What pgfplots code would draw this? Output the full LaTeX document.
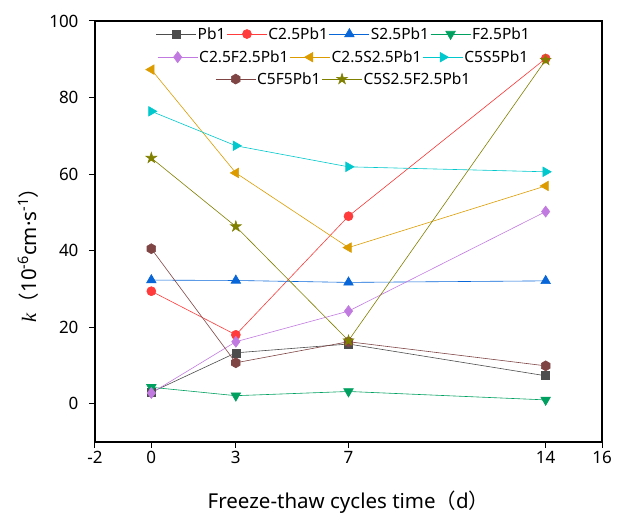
\documentclass[border=0pt]{standalone}
\usepackage{fontspec}
\setmainfont{Noto Sans}
\newfontfamily\serifit{Liberation Serif}
\newfontfamily\cjk{Noto Sans CJK SC}
\usepackage{pgfplots}
\pgfplotsset{compat=1.18}

\definecolor{cPb}{HTML}{4D4D4D}
\definecolor{cC}{HTML}{FF3B3B}
\definecolor{cS}{HTML}{0866D8}
\definecolor{cF}{HTML}{00A060}
\definecolor{cCF}{HTML}{C17BE0}
\definecolor{cCS}{HTML}{DC9C00}
\definecolor{cCSS}{HTML}{00C8CC}
\definecolor{cCFF}{HTML}{7F4545}
\definecolor{cStar}{HTML}{7F7F00}

% filled hexagon and star marks
\pgfdeclareplotmark{hexagon*}{%
  \pgfpathmoveto{\pgfpointpolar{90}{\pgfplotmarksize}}
  \pgfpathlineto{\pgfpointpolar{150}{\pgfplotmarksize}}
  \pgfpathlineto{\pgfpointpolar{210}{\pgfplotmarksize}}
  \pgfpathlineto{\pgfpointpolar{270}{\pgfplotmarksize}}
  \pgfpathlineto{\pgfpointpolar{330}{\pgfplotmarksize}}
  \pgfpathlineto{\pgfpointpolar{30}{\pgfplotmarksize}}
  \pgfpathclose
  \pgfusepathqfillstroke}
\pgfdeclareplotmark{fstar}{%
  \pgfpathmoveto{\pgfpointpolar{90}{1.3\pgfplotmarksize}}
  \pgfpathlineto{\pgfpointpolar{126}{0.5\pgfplotmarksize}}
  \pgfpathlineto{\pgfpointpolar{162}{1.3\pgfplotmarksize}}
  \pgfpathlineto{\pgfpointpolar{198}{0.5\pgfplotmarksize}}
  \pgfpathlineto{\pgfpointpolar{234}{1.3\pgfplotmarksize}}
  \pgfpathlineto{\pgfpointpolar{270}{0.5\pgfplotmarksize}}
  \pgfpathlineto{\pgfpointpolar{306}{1.3\pgfplotmarksize}}
  \pgfpathlineto{\pgfpointpolar{342}{0.5\pgfplotmarksize}}
  \pgfpathlineto{\pgfpointpolar{18}{1.3\pgfplotmarksize}}
  \pgfpathlineto{\pgfpointpolar{54}{0.5\pgfplotmarksize}}
  \pgfpathclose
  \pgfusepathqfillstroke}

\pgfplotsset{
  base/.style={line width=0.6pt, mark size=4.5pt, mark options={solid}},
  sPb/.style={base, cPb, mark=square*, mark size=4pt},
  sC/.style={base, cC, mark=*},
  sS/.style={base, cS, mark=triangle*, mark size=5.5pt},
  sF/.style={base, cF, mark=triangle*, mark size=5.5pt, mark options={rotate=180}},
  sCF/.style={base, cCF, mark=diamond*, mark size=5.5pt},
  sCS/.style={base, cCS, mark=triangle*, mark size=5.5pt, mark options={rotate=90}},
  sCSS/.style={base, cCSS, mark=triangle*, mark size=5.5pt, mark options={rotate=270}},
  sCFF/.style={base, cCFF, mark=hexagon*, mark size=5pt},
  sStar/.style={base, cStar, mark=fstar, mark size=4.3pt},
  frame/.style={
    scale only axis, width=507pt, height=421pt,
    xmin=-2, xmax=16, ymin=-10, ymax=100,
  },
  leg/.style={
    legend style={draw=none, fill=none, at={(0.49,#1)}, anchor=center,
      font=\fontsize{15.5}{17}\selectfont, inner sep=0pt,
      nodes={inner sep=1.2pt},
      /tikz/every even column/.style={column sep=0pt}},
    legend columns=-1,
    legend image code/.code={\draw[mark repeat=2,mark phase=2]
      plot coordinates {(0pt,0pt) (20pt,0pt) (40pt,0pt)};},
  },
}

\begin{document}
\begin{tikzpicture}
\useasboundingbox (-95pt,-74pt) rectangle (531pt,442pt);
\begin{axis}[
  frame, leg=0.969,
  axis line style={line width=1.1pt},
  xtick={-2,0,3,7,14,16},
  ytick={0,20,40,60,80,100},
  tick align=outside, xtick pos=bottom, ytick pos=left,
  major tick length=6pt,
  tick style={line width=1pt, black},
  /pgf/number format/assume math mode=true,
  tick label style={font=\fontsize{17}{19}\selectfont},
  yticklabel style={xshift=-7pt},
  xlabel={Freeze-thaw cycles time{\cjk（}d{\cjk）}},
  ylabel={{\serifit\itshape k}{\cjk（}10\textsuperscript{-6}cm·s\textsuperscript{-1}{\cjk）}},
  label style={font=\fontsize{20.5}{22}\selectfont},
  xlabel style={at={(axis description cs:0.5,0)}, anchor=center, yshift=-60pt},
  ylabel style={at={(axis description cs:-0.132,0.456)}, anchor=center},
]
\addplot[sPb] coordinates {(0,3.0) (3,13.3) (7,15.6) (14,7.3)};
\addlegendentry{Pb1}
\addplot[sC] coordinates {(0,29.4) (3,18.0) (7,49.0) (14,90.2)};
\addlegendentry{C2.5Pb1}
\addplot[sS] coordinates {(0,32.3) (3,32.2) (7,31.7) (14,32.1)};
\addlegendentry{S2.5Pb1}
\addplot[sF] coordinates {(0,4.3) (3,2.1) (7,3.2) (14,1.0)};
\addlegendentry{F2.5Pb1}
\addplot[sCF, forget plot] coordinates {(0,2.8) (3,16.2) (7,24.2) (14,50.2)};
\addplot[sCS, forget plot] coordinates {(0,87.3) (3,60.3) (7,40.8) (14,56.9)};
\addplot[sCSS, forget plot] coordinates {(0,76.4) (3,67.4) (7,61.9) (14,60.6)};
\addplot[sCFF, forget plot] coordinates {(0,40.5) (3,10.7) (7,16.2) (14,9.9)};
\addplot[sStar, forget plot] coordinates {(0,64.2) (3,46.3) (7,16.5) (14,89.8)};
\end{axis}
\begin{axis}[frame, hide axis, leg=0.914]
\addlegendimage{sCF}
\addlegendentry{C2.5F2.5Pb1}
\addlegendimage{sCS}
\addlegendentry{C2.5S2.5Pb1}
\addlegendimage{sCSS}
\addlegendentry{C5S5Pb1}
\end{axis}
\begin{axis}[frame, hide axis, leg=0.862]
\addlegendimage{sCFF}
\addlegendentry{C5F5Pb1}
\addlegendimage{sStar}
\addlegendentry{C5S2.5F2.5Pb1}
\end{axis}
\end{tikzpicture}
\end{document}
